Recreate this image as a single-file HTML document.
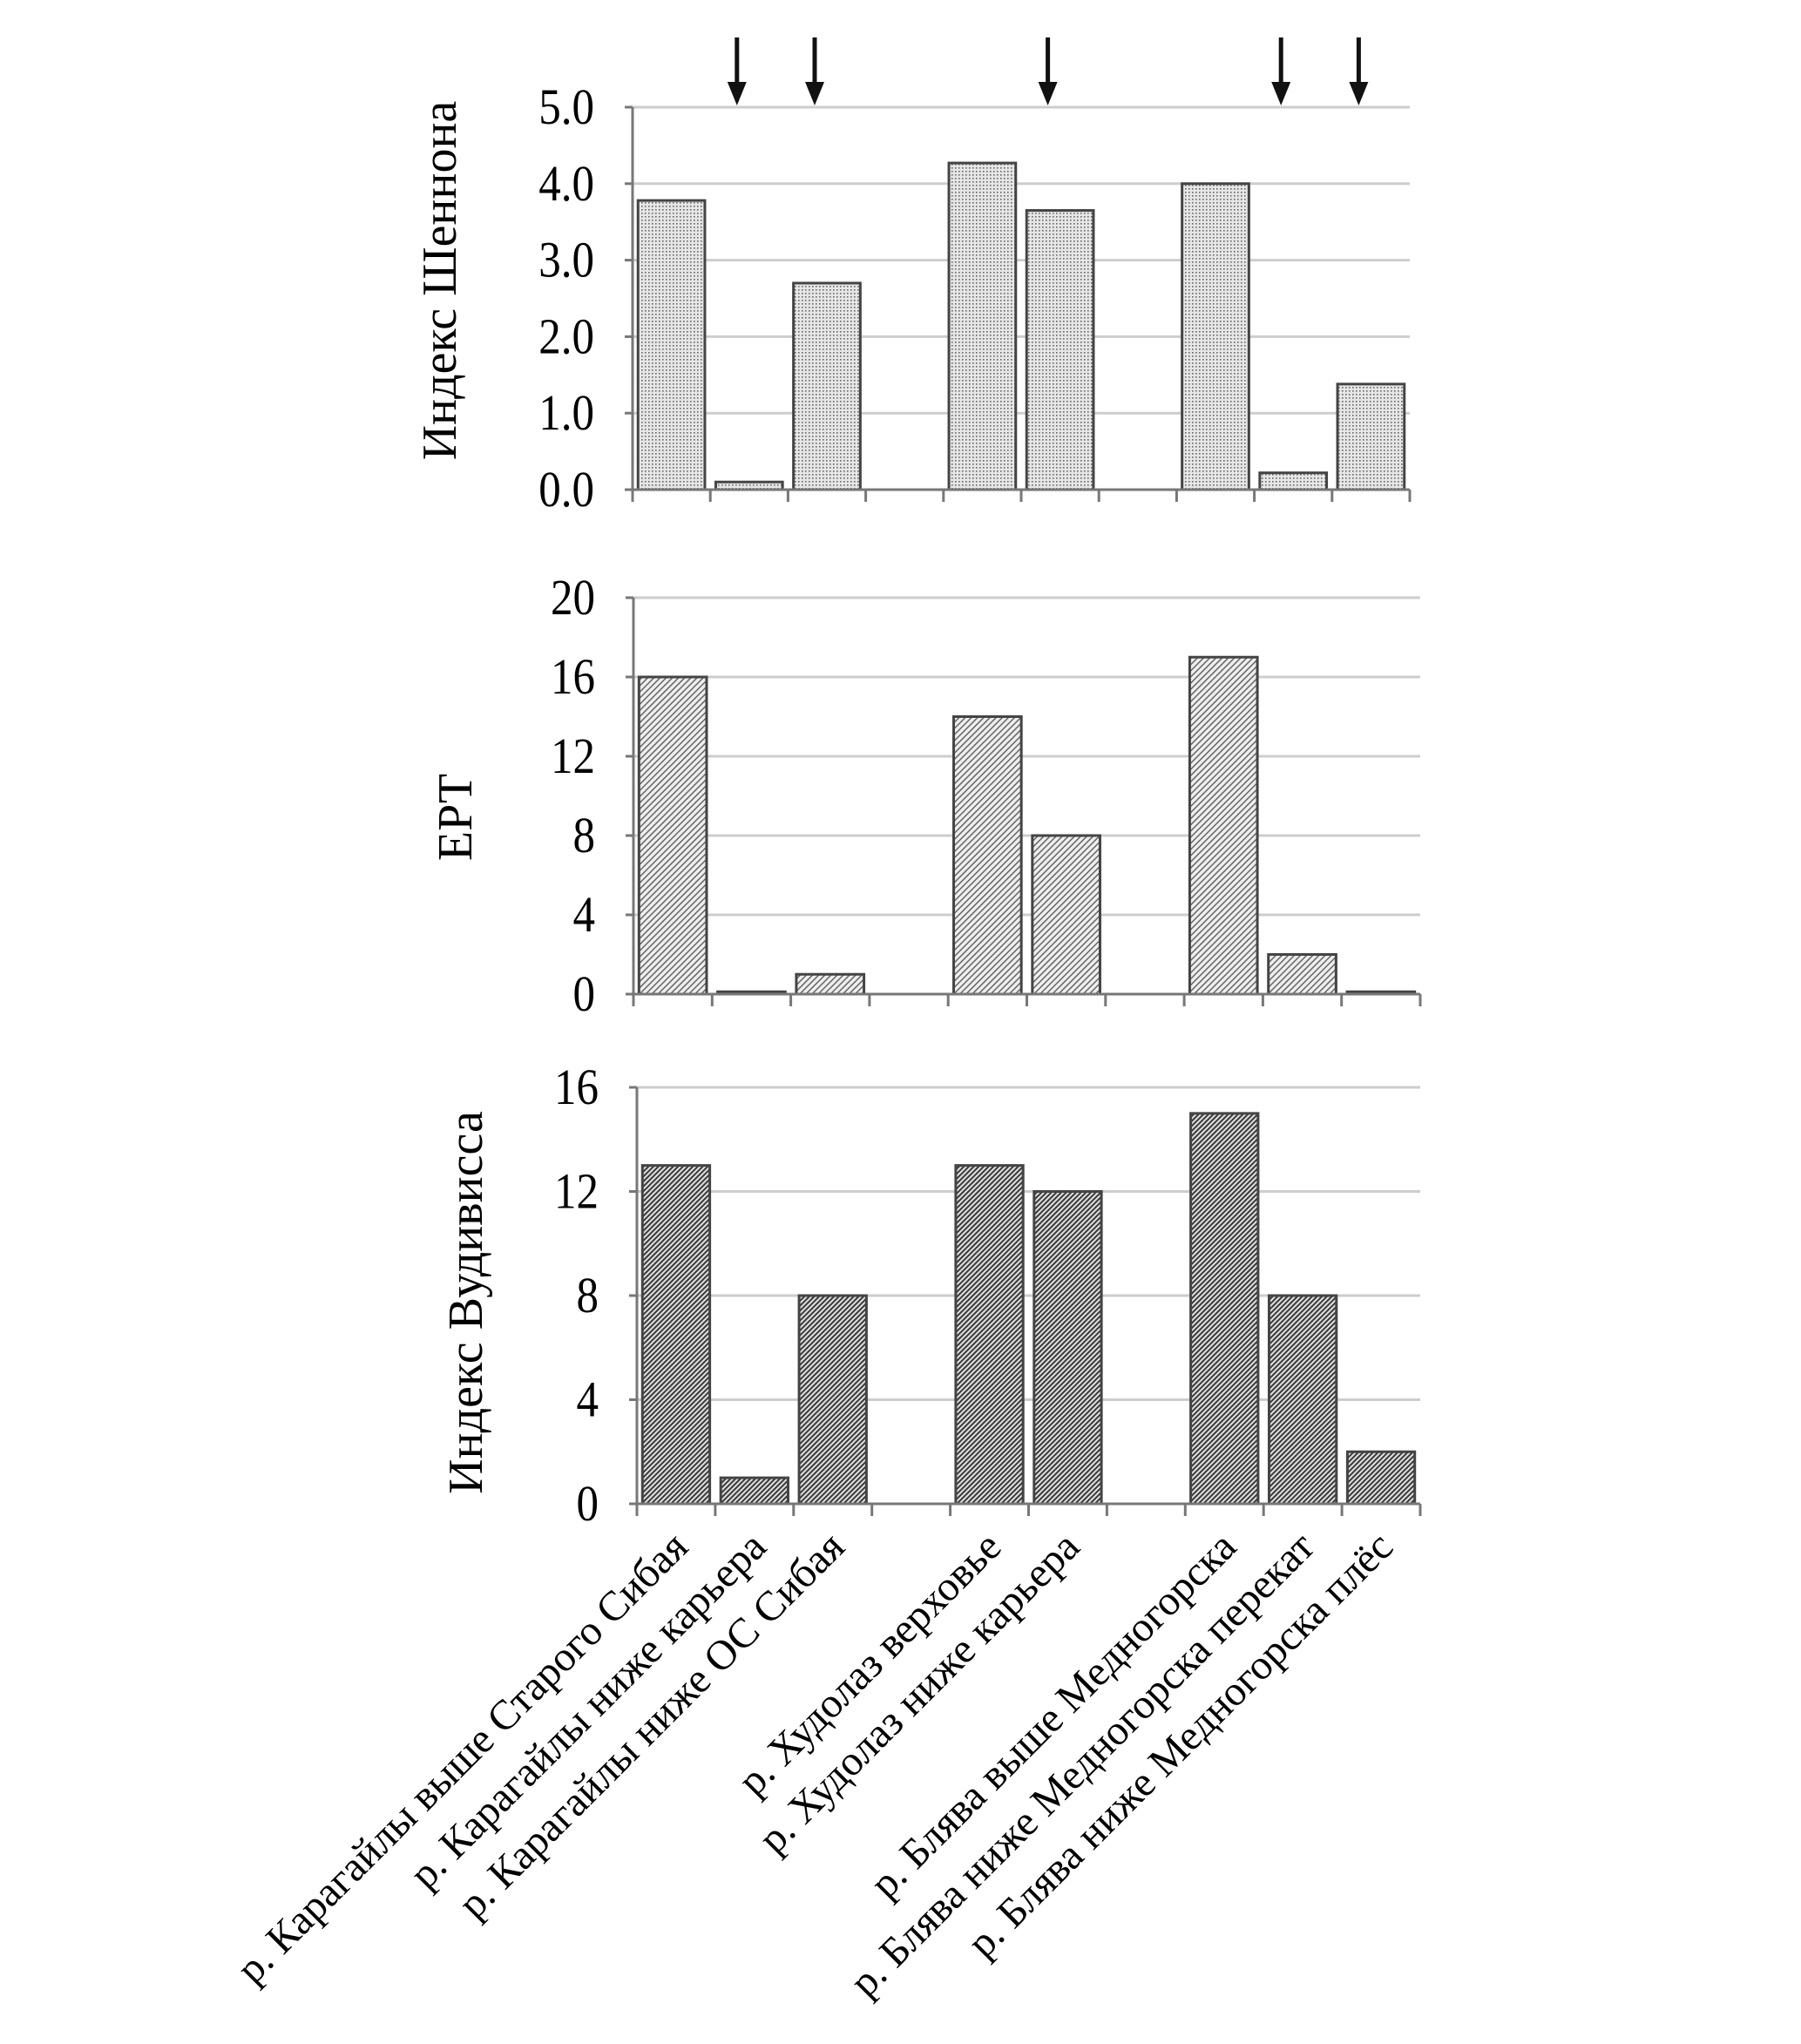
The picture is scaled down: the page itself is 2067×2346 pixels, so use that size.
<!DOCTYPE html>
<html><head><meta charset="utf-8">
<style>
html,body{margin:0;padding:0;background:#fff;}
svg{display:block;}
text{font-family:"Liberation Serif",serif;fill:#000;}
</style></head>
<body>
<svg id="chart" width="2067" height="2346" viewBox="0 0 2067 2346" xmlns="http://www.w3.org/2000/svg">
<defs>
<pattern id="dots" width="4" height="4" patternUnits="userSpaceOnUse">
<rect width="4" height="4" fill="#e6e6e6"/><rect x="0" y="0" width="1.6" height="1.6" fill="#666"/>
</pattern>
<pattern id="hatchLight" width="5" height="5" patternUnits="userSpaceOnUse" patternTransform="rotate(45)">
<rect width="5" height="5" fill="#eeeeee"/><rect x="0" y="0" width="1.5" height="5" fill="#666"/>
</pattern>
<pattern id="hatchDark" width="4" height="4" patternUnits="userSpaceOnUse" patternTransform="rotate(45)">
<rect width="4" height="4" fill="#e0e0e0"/><rect x="0" y="0" width="2" height="4" fill="#3a3a3a"/>
</pattern>
</defs>
<g id="arrows"></g>
<g id="panels"></g>
<g id="xlabels"></g>
</svg>
<script>
const categories = ["р. Карагайлы выше Старого Сибая","р. Карагайлы ниже карьера","р. Карагайлы ниже ОС Сибая","","р. Худолаз верховье","р. Худолаз ниже карьера","","р. Блява выше Медногорска","р. Блява ниже Медногорска перекат","р. Блява ниже Медногорска плёс"];
const shannonValues = [3.78, 0.1, 2.7, null, 4.27, 3.65, null, 4.0, 0.22, 1.38];
const eptValues = [16, 0.12, 1, null, 14, 8, null, 17, 2, 0.12];
const woodiwissValues = [13, 1, 8, null, 13, 12, null, 15, 8, 2];
const shannonTicks = ["0.0","1.0","2.0","3.0","4.0","5.0"];
const eptTicks = ["0","4","8","12","16","20"];
const woodiwissTicks = ["0","4","8","12","16"];
const arrowCategories = [1, 2, 5, 8, 9];

const NS = "http://www.w3.org/2000/svg";
function mk(tag, attrs, parent){const e=document.createElementNS(NS,tag);for(const k in attrs)e.setAttribute(k,attrs[k]);parent.appendChild(e);return e;}

const panelsDef = [
 {name:"shannon", vals:shannonValues, ticks:shannonTicks, max:5, x0:726, x1:1618, yTop:123, yBot:562, fill:"url(#dots)", title:"Индекс Шеннона", tx:505, ty:322},
 {name:"ept", vals:eptValues, ticks:eptTicks, max:20, x0:727, x1:1630, yTop:686, yBot:1141, fill:"url(#hatchLight)", title:"ЕРТ", tx:523, ty:938},
 {name:"woodiwiss", vals:woodiwissValues, ticks:woodiwissTicks, max:16, x0:731, x1:1630, yTop:1248, yBot:1726, fill:"url(#hatchDark)", title:"Индекс Вудивисса", tx:535, ty:1495}
];
const panelsG = document.getElementById("panels");
panelsDef.forEach(p=>{
 const g = mk("g",{},panelsG);
 
 
 const n = categories.length;
 const slot = (p.x1-p.x0)/n;
 const yS = v => p.yBot - v/p.max*(p.yBot-p.yTop);
 const xS = i => p.x0 + i*slot;
 const tickStep = p.max/(p.ticks.length-1);
 p.ticks.forEach((t,i)=>{
  const y = yS(i*tickStep);
  if(i>0){const gl=mk("line",{x1:p.x0,x2:p.x1,y1:y,y2:y,stroke:"#cdcdcd","stroke-width":3},g);
   
   }
  mk("line",{x1:p.x0-9,x2:p.x0,y1:y,y2:y,stroke:"#777","stroke-width":3},g);
  const tl = mk("text",{x:0,y:0,"font-size":58,"text-anchor":"end",transform:`translate(${p.x0-44},${y+19}) scale(0.88,1)`},g);
  tl.textContent=t;
  
  
 });
 p.vals.forEach((v,i)=>{
  if(v===null) return;
  const bw = slot*0.86;
  const bx = xS(i)+(slot-bw)/2;
  const r = mk("rect",{x:bx,y:yS(v),width:bw,height:p.yBot-yS(v),fill:p.fill,stroke:"#444","stroke-width":3},g);
  
  
 });
 const ax = mk("line",{x1:p.x0,x2:p.x0,y1:p.yTop,y2:p.yBot,stroke:"#777","stroke-width":3},g);
 
 
 const bx = mk("line",{x1:p.x0,x2:p.x1,y1:p.yBot,y2:p.yBot,stroke:"#777","stroke-width":3},g);
 
 
 for(let i=0;i<=n;i++){mk("line",{x1:xS(i),x2:xS(i),y1:p.yBot,y2:p.yBot+14,stroke:"#777","stroke-width":3},g);}
 const tt = mk("text",{x:0,y:0,"font-size":56,"text-anchor":"middle",transform:`translate(${p.tx+18},${p.ty}) rotate(-90)`},g);
 tt.textContent=p.title;
 
 
});
// arrows above top panel
const ag = document.getElementById("arrows");
const tp = panelsDef[0];
const tslot=(tp.x1-tp.x0)/categories.length;
arrowCategories.forEach(c=>{
 const x = tp.x0 + (c+0.5)*tslot - 14;
 const a = mk("g",{},ag);
 
 
 mk("line",{x1:x,x2:x,y1:43,y2:100,stroke:"#111","stroke-width":5},a);
 mk("polygon",{points:`${x-11},${94} ${x+11},${94} ${x},${121}`,fill:"#111"},a);
});
// x labels (bottom)
const xg = document.getElementById("xlabels");
const bp = panelsDef[2];
const bslot=(bp.x1-bp.x0)/categories.length;
categories.forEach((c,i)=>{
 if(!c) return;
 const cx = bp.x0+(i+0.5)*bslot+16;
 const t = mk("text",{x:0,y:0,"font-size":48,"text-anchor":"end",transform:`translate(${cx},1778) rotate(-45)`},xg);
 t.textContent=c;
 
 
});
</script>
</body></html>
